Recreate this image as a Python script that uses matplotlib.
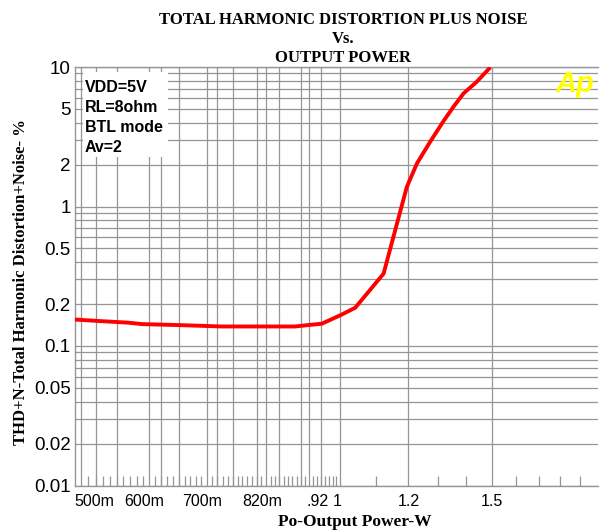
import numpy as np
import matplotlib
matplotlib.use("Agg")
import matplotlib.pyplot as plt
from matplotlib.patches import Rectangle
from matplotlib.ticker import NullFormatter
import matplotlib.transforms as mtransforms

# ---------------- data ----------------
power_w = [0.49, 0.525, 0.567, 0.589, 0.655, 0.729, 0.80, 0.886, 0.915, 0.952,
           1.0, 1.041, 1.123, 1.164, 1.195, 1.228, 1.272, 1.318, 1.354, 1.391,
           1.441, 1.494]
thdn_pct = [0.155, 0.151, 0.147, 0.1435, 0.141, 0.138, 0.138, 0.138, 0.141, 0.1445,
            0.166, 0.188, 0.33, 0.755, 1.38, 2.04, 2.91, 4.09, 5.19, 6.47,
            7.84, 9.95]

x_tick_vals = [0.5, 0.6, 0.7, 0.82, 0.92, 1.0, 1.2, 1.5]
x_tick_labels = ["500m", "600m", "700m", "820m", ".92", "1", "1.2", "1.5"]
x_grid_vals = [0.5, 0.52, 0.55, 0.6, 0.62, 0.65, 0.7, 0.72, 0.75, 0.8, 0.82,
               0.85, 0.9, 0.92, 0.95, 1.0, 1.2, 1.5]
y_tick_vals = [0.01, 0.02, 0.05, 0.1, 0.2, 0.5, 1, 2, 5, 10]
y_tick_labels = ["0.01", "0.02", "0.05", "0.1", "0.2", "0.5", "1", "2", "5", "10"]
conditions = ["VDD=5V", "RL=8ohm", "BTL mode", "Av=2"]

title_lines = ["TOTAL HARMONIC DISTORTION PLUS NOISE", "Vs.", "OUTPUT POWER"]
x_label = "Po-Output Power-W"
y_label = "THD+N-Total Harmonic Distortion+Noise- %"

# ---------------- layout ----------------
W, H = 613, 532
fig = plt.figure(figsize=(W / 100, H / 100), dpi=100)
L, R, T, B = 75, 597.5, 67, 485.5
ax = fig.add_axes([L / W, 1 - B / H, (R - L) / W, (B - T) / H])

def fx(x):
    return x / W

def fy(y):
    return 1 - y / H

grid_c = "#959595"
serif = "Liberation Serif"
sans = "Liberation Sans"

ax.set_xscale("log")
ax.set_yscale("log")
ax.set_xlim(0.492, 1.99)
ax.set_ylim(0.01, 10)

# grid
for v in x_grid_vals:
    ax.axvline(v, color=grid_c, lw=0.9, zorder=1)
y_grid = [m * d for d in (0.01, 0.1, 1) for m in range(1, 10)] + [10]
for v in y_grid:
    ax.axhline(v, color=grid_c, lw=0.9, zorder=1)

# curve
ax.plot(power_w, thdn_pct, color="#ff0000", lw=2.8, zorder=4,
        solid_joinstyle="round", solid_capstyle="butt")

# ticks
ax.set_xticks(x_tick_vals)
ax.set_xticklabels(x_tick_labels)
minor_x = list(np.round(np.arange(0.51, 1.0, 0.01), 2)) + list(np.round(np.arange(1.1, 2.0, 0.1), 1))
ax.set_xticks(minor_x, minor=True)
ax.xaxis.set_minor_formatter(NullFormatter())
ax.tick_params(axis="x", which="major", length=0, pad=6, labelsize=11.5)
ax.tick_params(axis="x", which="minor", length=7, direction="in", color=grid_c, width=0.9)
ax.set_yticks(y_tick_vals)
ax.set_yticklabels(y_tick_labels)
ax.set_yticks([], minor=True)
ax.tick_params(axis="y", which="major", length=0, pad=3, labelsize=13.5)
for lab in ax.get_xticklabels() + ax.get_yticklabels():
    lab.set_fontfamily(sans)

# small horizontal nudges of x labels (as in reference)
nudges = [13, -5, -5, -4, 9, -3, 0, 0]
for lab, dx in zip(ax.get_xticklabels(), nudges):
    lab.set_transform(lab.get_transform() + mtransforms.ScaledTranslation(dx / 100, 0, fig.dpi_scale_trans))

for s in ["left", "bottom", "top"]:
    ax.spines[s].set_color(grid_c)
    ax.spines[s].set_linewidth(1.0)
ax.spines["right"].set_visible(False)

# condition box
bx0, bx1, by0, by1 = 83, 168, 72, 157
ax.add_patch(Rectangle(((bx0 - L) / (R - L), (B - by1) / (B - T)),
                       (bx1 - bx0) / (R - L), (by1 - by0) / (B - T),
                       transform=ax.transAxes, facecolor="white", edgecolor="none", zorder=2))
for i, txt in enumerate(conditions):
    yc = 87.5 + 20 * i
    ax.text((85 - L) / (R - L), (B - yc) / (B - T), txt, transform=ax.transAxes,
            ha="left", va="center", fontsize=11.5, fontweight="bold",
            family=sans, zorder=5)

# Ap logo
ax.text((575 - L) / (R - L), (B - 83.5) / (B - T), "Ap", transform=ax.transAxes,
        ha="center", va="center", fontsize=21, fontweight="bold", style="italic",
        color="#ffff00", family=sans, zorder=5)

# titles and axis labels
for txt, yc in zip(title_lines, [20, 39, 58]):
    fig.text(fx(343), fy(yc), txt, ha="center", va="center", fontsize=12,
             fontweight="bold", family=serif)
fig.text(fx(355), fy(522), x_label, ha="center", va="center", fontsize=12.5,
         fontweight="bold", family=serif)
fig.text(fx(21), fy(282), y_label, ha="center", va="center", rotation=90,
         fontsize=12, fontweight="bold", family=serif)

fig.savefig("out.png", dpi=100, facecolor="white")
